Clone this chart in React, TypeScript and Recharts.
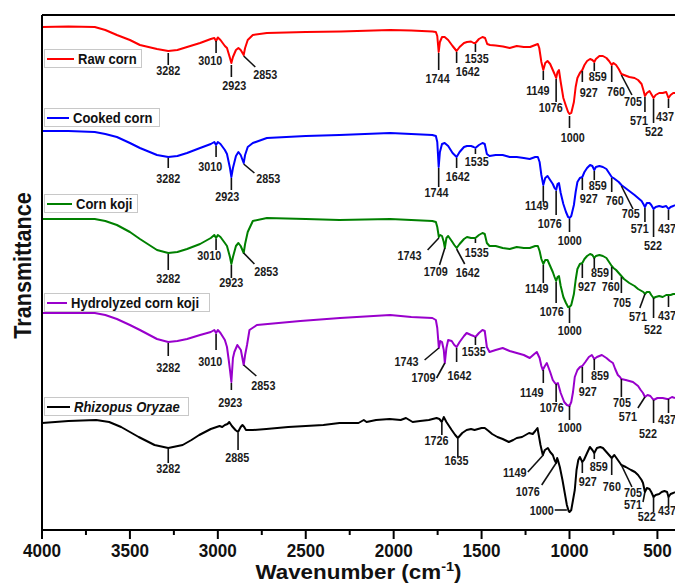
import React from 'react';
import { LineChart, Line, XAxis, YAxis, ReferenceLine, ReferenceDot } from 'recharts';

// FTIR spectra: [wavenumber (cm-1), offset transmittance (a.u.)]
type Pt = [number, number];

const rawCorn: Pt[] = [
  [4000, 503], [3850, 503.5], [3700, 503], [3640, 500], [3574, 495], [3500, 490], [3443, 485], [3346, 481],
  [3282, 479], [3230, 480], [3175, 483], [3101, 487], [3040, 491], [3020, 492], [3010, 489], [3000, 492.5],
  [2985, 490], [2960, 484], [2948, 482], [2931, 472], [2923, 467], [2914, 473], [2897, 480], [2883, 482],
  [2870, 480], [2853, 475], [2845, 482], [2830, 490], [2801, 495], [2721, 497], [2500, 498], [2300, 498.5],
  [2020, 500], [1900, 499.5], [1780, 498.5], [1760, 498], [1752, 494], [1744, 478], [1737, 488], [1725, 493],
  [1710, 493], [1690, 490], [1665, 484], [1642, 479], [1625, 483], [1600, 487], [1583, 488], [1560, 488.5],
  [1545, 487], [1535, 487], [1515, 491], [1495, 493], [1480, 492], [1468, 486], [1452, 485], [1420, 484.5],
  [1378, 483.5], [1340, 482], [1300, 484], [1260, 483], [1224, 483], [1195, 485], [1180, 486], [1172, 482],
  [1160, 468], [1149, 460], [1138, 467], [1125, 469], [1110, 466], [1095, 460], [1085, 456], [1076, 452],
  [1068, 458], [1060, 460], [1050, 448], [1035, 432], [1020, 424], [1008, 418], [1000, 416], [990, 417],
  [975, 428], [965, 443], [955, 452], [941, 457], [927, 460], [915, 465], [900, 469], [883, 471], [870, 470],
  [859, 468], [850, 471], [830, 474], [810, 474], [790, 472], [775, 469], [760, 465], [750, 467], [735, 465],
  [720, 461], [705, 456], [690, 455], [660, 453], [630, 452], [610, 450], [590, 446], [580, 440], [571, 434],
  [560, 437], [545, 439], [535, 436], [522, 432], [510, 435], [490, 437], [470, 437], [450, 438], [437, 432],
  [425, 435], [410, 437], [400, 437],
];

const cookedCorn: Pt[] = [
  [4000, 399], [3850, 399], [3700, 398], [3640, 396], [3574, 393], [3500, 387], [3443, 382], [3346, 375],
  [3282, 373], [3230, 374], [3175, 377], [3101, 382], [3040, 386], [3020, 388], [3010, 385], [3000, 388],
  [2985, 386], [2960, 380], [2948, 376], [2931, 362], [2923, 353], [2914, 362], [2897, 374], [2883, 378],
  [2870, 375], [2853, 367], [2845, 375], [2830, 383], [2801, 387], [2721, 392], [2500, 394], [2308, 395],
  [2020, 397], [1900, 396], [1780, 395], [1760, 394], [1752, 388], [1744, 363], [1737, 378], [1725, 386],
  [1710, 387], [1690, 384], [1665, 377], [1642, 373], [1625, 378], [1600, 383], [1583, 384], [1560, 384],
  [1545, 383], [1535, 382], [1515, 385], [1495, 387], [1482, 386], [1470, 376], [1455, 374], [1420, 375],
  [1380, 375], [1340, 373], [1300, 373], [1260, 372], [1226, 371], [1195, 373], [1180, 373], [1170, 368],
  [1160, 355], [1149, 345], [1138, 352], [1125, 354], [1110, 350], [1095, 346], [1085, 342], [1076, 340],
  [1068, 346], [1060, 347], [1050, 337], [1035, 326], [1020, 318], [1008, 313], [1000, 312], [990, 314],
  [975, 325], [965, 338], [955, 348], [941, 352], [927, 353], [915, 358], [900, 362], [883, 365], [870, 364],
  [859, 360], [850, 363], [830, 364], [810, 363], [790, 361], [775, 357], [760, 353], [750, 352], [735, 350],
  [720, 348], [705, 345], [690, 343], [660, 339], [630, 335], [610, 332], [590, 329], [580, 326], [571, 323],
  [560, 327], [545, 327], [535, 325], [522, 321], [510, 323], [490, 324], [470, 323], [450, 324], [437, 321],
  [425, 323], [410, 324], [400, 325],
];

const cornKoji: Pt[] = [
  [4000, 311], [3850, 311], [3700, 311], [3640, 309], [3574, 305], [3500, 298], [3443, 291], [3346, 280],
  [3282, 277], [3230, 278], [3175, 281], [3101, 286], [3040, 292], [3020, 295], [3010, 292], [3000, 295],
  [2985, 293], [2960, 287], [2948, 284], [2931, 273], [2923, 266], [2914, 273], [2897, 284], [2883, 287],
  [2870, 284], [2853, 277], [2845, 286], [2830, 298], [2801, 309], [2721, 312], [2500, 311], [2308, 310],
  [2020, 311], [1900, 310], [1780, 309], [1760, 308], [1752, 303], [1743, 293], [1735, 295], [1725, 294],
  [1715, 288], [1709, 282], [1700, 292], [1690, 294], [1670, 289], [1655, 285], [1642, 282], [1625, 286],
  [1600, 291], [1583, 293], [1560, 292], [1545, 292], [1535, 292], [1515, 295], [1495, 297], [1482, 296],
  [1470, 287], [1455, 284], [1420, 284], [1380, 282], [1340, 281], [1300, 283], [1260, 282], [1226, 282],
  [1195, 284], [1180, 284], [1170, 279], [1160, 271], [1149, 266], [1138, 270], [1125, 270], [1110, 264],
  [1095, 258], [1085, 253], [1076, 249], [1068, 253], [1060, 254], [1050, 244], [1035, 233], [1020, 227],
  [1008, 223], [1000, 223], [990, 225], [975, 236], [965, 250], [955, 261], [941, 266], [927, 267], [915, 271],
  [900, 274], [883, 276], [870, 275], [859, 272], [850, 274], [830, 275], [810, 274], [790, 272], [775, 268],
  [760, 264], [750, 262], [735, 260], [720, 257], [705, 254], [690, 251], [660, 247], [630, 244], [610, 241],
  [590, 239], [580, 238], [571, 236], [560, 238], [545, 238], [535, 235], [522, 232], [510, 233], [490, 234],
  [470, 233], [450, 235], [437, 235], [425, 235], [410, 236], [400, 236],
];

const hydrolyzedCornKoji: Pt[] = [
  [4000, 217], [3850, 217], [3700, 217], [3640, 215], [3574, 211], [3500, 205], [3443, 200], [3346, 191],
  [3282, 188], [3230, 189], [3175, 191], [3101, 195], [3040, 198], [3020, 200], [3010, 197], [3000, 200],
  [2985, 197], [2960, 190], [2948, 183], [2938, 170], [2931, 160], [2923, 148], [2914, 172], [2906, 178],
  [2889, 185], [2869, 180], [2853, 165], [2845, 175], [2834, 185], [2820, 200], [2778, 205], [2531, 209],
  [2305, 212], [2020, 215], [1900, 213], [1780, 212], [1760, 210], [1752, 202], [1743, 182], [1735, 189],
  [1725, 188], [1715, 180], [1709, 167], [1700, 182], [1690, 190], [1670, 189], [1655, 185], [1642, 183],
  [1625, 188], [1600, 194], [1585, 197], [1560, 195], [1545, 194], [1535, 193], [1515, 197], [1495, 200],
  [1482, 199], [1470, 183], [1455, 178], [1420, 180], [1380, 182], [1340, 179], [1300, 177], [1260, 175],
  [1226, 172], [1200, 176], [1186, 178], [1170, 172], [1160, 164], [1152, 160], [1140, 164], [1129, 167],
  [1110, 158], [1095, 150], [1083, 147], [1076, 146], [1066, 147], [1050, 137], [1030, 128], [1015, 125],
  [1000, 124], [990, 128], [980, 138], [970, 153], [955, 160], [940, 163], [927, 164], [910, 168], [890, 173],
  [873, 175], [859, 171], [844, 173], [816, 175], [790, 172], [770, 169], [753, 167], [740, 161], [725, 155],
  [713, 153], [705, 151], [680, 150], [639, 148], [610, 144], [595, 140], [582, 137], [571, 133], [556, 135],
  [540, 134], [522, 130], [500, 132], [470, 132], [445, 131], [437, 131], [417, 133], [400, 132],
];

const rhizopusOryzae: Pt[] = [
  [4000, 107], [3850, 109], [3692, 110], [3618, 108], [3550, 103], [3500, 98], [3450, 93], [3360, 85],
  [3282, 82], [3200, 85], [3150, 90], [3106, 95], [3040, 101], [2990, 104], [2975, 103], [2960, 105],
  [2945, 106], [2935, 108], [2920, 104], [2900, 100], [2885, 98], [2870, 103], [2860, 105], [2850, 103],
  [2840, 100], [2800, 100], [2724, 101], [2600, 103], [2500, 104], [2400, 105], [2308, 107], [2200, 107],
  [2170, 110], [2154, 108], [2100, 110], [2023, 111], [1960, 110], [1930, 112], [1892, 108], [1850, 109],
  [1800, 110], [1756, 112], [1740, 111], [1726, 108], [1715, 113], [1700, 108], [1670, 100], [1650, 95],
  [1635, 92], [1610, 97], [1585, 100], [1560, 101], [1540, 100], [1520, 101], [1500, 102], [1482, 102],
  [1460, 99], [1440, 96], [1410, 93], [1380, 91], [1345, 88], [1320, 90], [1300, 92], [1270, 93], [1250, 95],
  [1230, 97], [1209, 96], [1195, 99], [1182, 102], [1175, 95], [1165, 85], [1152, 75], [1140, 80], [1123, 82],
  [1110, 78], [1095, 75], [1085, 70], [1076, 67], [1070, 72], [1066, 70], [1055, 63], [1040, 50], [1027, 37],
  [1015, 25], [1005, 19], [1000, 18], [990, 20], [980, 30], [970, 40], [960, 60], [950, 70], [941, 73],
  [927, 68], [918, 70], [900, 77], [884, 83], [870, 80], [859, 77], [844, 82], [825, 83], [810, 82], [790, 78],
  [770, 74], [760, 72], [745, 75], [725, 70], [705, 65], [680, 63], [650, 60], [628, 58], [610, 55], [590, 50],
  [582, 47], [571, 38], [560, 42], [545, 41], [535, 38], [522, 33], [510, 35], [490, 36], [476, 38], [460, 39],
  [445, 38], [437, 33], [425, 36], [410, 37], [400, 38],
];

// Band assignments: [label, lineFromWn, lineFromT, lineToWn, lineToT, textWn, textT]
type Peak = [number, number, number, number, number, number, number];

const rawCornPeaks: Peak[] = [
  [3282, 3282, 477, 3282, 465, 3282, 459], [3010, 3010, 489, 3010, 477, 3043, 469],
  [2923, 2923, 465, 2923, 453, 2906, 444], [2853, 2853, 474, 2787, 463, 2730, 455],
  [1744, 1744, 477, 1744, 460, 1750, 451], [1642, 1642, 478, 1642, 467, 1579, 458],
  [1535, 1535, 486, 1535, 478, 1528, 471], [1149, 1149, 459, 1149, 450, 1180, 439],
  [1076, 1076, 451, 1076, 428, 1106, 422], [1000, 1000, 414, 1000, 402, 981, 392],
  [927, 927, 459, 927, 448, 890, 437], [859, 859, 467, 859, 459, 839, 453],
  [760, 760, 464, 760, 448, 736, 438], [705, 705, 455, 645, 435, 639, 428],
  [571, 571, 433, 571, 418, 605, 409], [522, 522, 431, 522, 407, 520, 398],
  [437, 437, 431, 437, 422, 457, 413],
];

const cookedCornPeaks: Peak[] = [
  [3282, 3282, 372, 3282, 362, 3282, 351], [3010, 3010, 384, 3010, 373, 3043, 363],
  [2923, 2923, 352, 2923, 340, 2946, 333], [2853, 2853, 366, 2792, 357, 2713, 351],
  [1744, 1744, 362, 1744, 343, 1756, 337], [1642, 1642, 372, 1642, 362, 1636, 353],
  [1535, 1535, 381, 1535, 376, 1528, 368], [1149, 1149, 344, 1149, 328, 1186, 324],
  [1076, 1076, 339, 1076, 315, 1112, 306], [1000, 1000, 311, 1000, 298, 998, 289],
  [927, 927, 352, 927, 340, 890, 331], [859, 859, 359, 859, 350, 839, 344],
  [760, 760, 352, 760, 338, 742, 329], [705, 705, 344, 639, 321, 651, 316],
  [571, 571, 322, 571, 308, 600, 301], [522, 522, 320, 522, 293, 525, 284],
  [437, 437, 320, 437, 310, 446, 301],
];

const cornKojiPeaks: Peak[] = [
  [3282, 3282, 276, 3282, 260, 3282, 251], [3010, 3010, 291, 3010, 280, 3049, 274],
  [2923, 2923, 265, 2923, 252, 2923, 247], [2853, 2853, 277, 2792, 266, 2724, 258],
  [1743, 1743, 292, 1807, 280, 1910, 274], [1709, 1709, 282, 1739, 265, 1761, 258],
  [1642, 1642, 281, 1596, 266, 1579, 257], [1535, 1535, 291, 1535, 287, 1528, 277],
  [1149, 1149, 265, 1149, 247, 1186, 241], [1076, 1076, 248, 1076, 227, 1101, 218],
  [1000, 1000, 222, 1000, 207, 998, 199], [927, 927, 266, 927, 252, 901, 243],
  [859, 859, 272, 859, 262, 827, 257], [760, 760, 263, 760, 250, 765, 243],
  [705, 705, 253, 705, 237, 702, 227], [571, 571, 236, 600, 222, 611, 213],
  [522, 522, 232, 522, 212, 525, 200], [437, 437, 234, 437, 223, 446, 214],
];

const hydrolyzedCornKojiPeaks: Peak[] = [
  [3282, 3282, 187, 3282, 174, 3282, 162], [3010, 3010, 196, 3010, 180, 3043, 168],
  [2923, 2923, 147, 2923, 140, 2929, 127], [2853, 2853, 165, 2781, 154, 2741, 144],
  [1743, 1743, 182, 1824, 170, 1927, 168], [1709, 1709, 167, 1756, 152, 1830, 152],
  [1642, 1642, 182, 1642, 168, 1625, 154], [1535, 1535, 193, 1535, 185, 1545, 178],
  [1149, 1149, 160, 1149, 147, 1215, 137], [1076, 1076, 146, 1076, 128, 1101, 122],
  [1000, 1000, 124, 1000, 110, 998, 102], [927, 927, 163, 927, 147, 896, 138],
  [859, 859, 171, 859, 160, 827, 154], [705, 705, 151, 705, 133, 702, 127],
  [571, 571, 133, 611, 122, 668, 113], [522, 522, 130, 522, 107, 554, 96],
  [437, 437, 131, 437, 117, 446, 110],
];

const rhizopusOryzaePeaks: Peak[] = [
  [3282, 3282, 81, 3282, 67, 3282, 61], [2885, 2885, 97, 2885, 80, 2889, 72],
  [1726, 1726, 107, 1726, 95, 1756, 89], [1635, 1635, 91, 1635, 73, 1642, 69],
  [1149, 1149, 75, 1237, 58, 1311, 57], [1076, 1076, 67, 1158, 45, 1237, 38],
  [1000, 1084, 20, 1015, 20, 1158, 19], [927, 927, 68, 927, 57, 896, 48],
  [859, 859, 77, 859, 71, 833, 63], [760, 760, 72, 760, 55, 759, 43],
  [705, 705, 65, 645, 43, 639, 37], [571, 571, 38, 582, 28, 639, 25],
  [522, 522, 33, 522, 18, 560, 13], [437, 437, 33, 437, 23, 446, 19],
];

const seriesNames = ['Raw corn', 'Cooked corn', 'Corn koji', 'Hydrolyzed corn koji', 'Rhizopus Oryzae'];
const majorTicks = [4000, 3500, 3000, 2500, 2000, 1500, 1000, 500];
const minorTicks = [3750, 3250, 2750, 2250, 1750, 1250, 750];

const FONT = '"Liberation Sans", Arial, Helvetica, sans-serif';

const SERIES = [
  { name: seriesNames[0], color: '#ff0000', data: rawCorn, peaks: rawCornPeaks, italic: false },
  { name: seriesNames[1], color: '#0000ff', data: cookedCorn, peaks: cookedCornPeaks, italic: false },
  { name: seriesNames[2], color: '#008000', data: cornKoji, peaks: cornKojiPeaks, italic: false },
  { name: seriesNames[3], color: '#9900cc', data: hydrolyzedCornKoji, peaks: hydrolyzedCornKojiPeaks, italic: false },
  { name: seriesNames[4], color: '#000000', data: rhizopusOryzae, peaks: rhizopusOryzaePeaks, italic: true },
];

// legend box placement (left, top, width) for each sample
const LEGEND_BOXES = [
  { left: 44, top: 49, width: 98 },
  { left: 44, top: 108, width: 116 },
  { left: 44, top: 194, width: 94 },
  { left: 44, top: 293, width: 166 },
  { left: 44, top: 397, width: 145 },
];

const toRows = (pts: Pt[]) => pts.map(([wn, t]) => ({ wn, t }));

const WaveTick = (props: any) => {
  const { x, y, payload } = props;
  const major = majorTicks.includes(payload.value);
  return (
    <g>
      <line x1={x} x2={x} y1={y} y2={y + (major ? 9 : 5)} stroke="#000" strokeWidth={2} />
      {major && (
        <text
          transform={`translate(${x},${y + 27}) scale(0.9,1)`}
          textAnchor="middle"
          fontFamily={FONT}
          fontWeight="bold"
          fontSize={19}
          fill="#111"
        >
          {payload.value}
        </text>
      )}
    </g>
  );
};

const XTitle = (props: any) => {
  const vb = props.viewBox || { x: 42, y: 530, width: 633, height: 54 };
  const cx = vb.x + vb.width / 2;
  return (
    <text
      transform={`translate(${cx},${vb.y + 49}) scale(1.12,1)`}
      textAnchor="middle"
      fontFamily={FONT}
      fontWeight="bold"
      fontSize={20}
      fill="#111"
    >
      Wavenumber (cm
      <tspan fontSize={13} dy={-8}>-1</tspan>
      <tspan dy={8}>)</tspan>
    </text>
  );
};

const YTitle = (props: any) => {
  const vb = props.viewBox || { x: 0, y: 15, width: 42, height: 515 };
  const cy = vb.y + vb.height / 2 - 7;
  return (
    <text
      transform={`translate(31,${cy}) rotate(-90) scale(0.9,1)`}
      textAnchor="middle"
      fontFamily={FONT}
      fontWeight="bold"
      fontSize={24}
      fill="#111"
    >
      Transmittance
    </text>
  );
};

const peakLabelShape = (label: number) => (p: any) => (
  <text
    transform={`translate(${p.cx},${p.cy}) scale(0.9,1)`}
    dy="0.36em"
    textAnchor="middle"
    fontFamily={FONT}
    fontWeight="bold"
    fontSize={12}
    fill="#1a1a1a"
  >
    {label}
  </text>
);

export default function App() {
  const marks: React.ReactElement[] = [];
  SERIES.forEach((s, si) => {
    s.peaks.forEach(([label, x1, t1, x2, t2, tx, ty], pi) => {
      marks.push(
        <ReferenceLine
          key={`pl-${si}-${pi}`}
          segment={[{ x: x1, y: t1 }, { x: x2, y: t2 }]}
          stroke="#111"
          strokeWidth={1.6}
          ifOverflow="visible"
        />
      );
      marks.push(
        <ReferenceDot
          key={`pt-${si}-${pi}`}
          x={tx}
          y={ty}
          r={0}
          ifOverflow="visible"
          shape={peakLabelShape(label)}
        />
      );
    });
  });

  return (
    <div style={{ position: 'absolute', left: 0, top: 0, width: 675, height: 584, background: '#fff', overflow: 'hidden' }}>
      <LineChart width={675} height={584} margin={{ top: 15, right: 0, bottom: 0, left: 0 }}>
        <XAxis
          type="number"
          dataKey="wn"
          domain={[400, 4000]}
          reversed
          allowDataOverflow
          ticks={[...majorTicks, ...minorTicks].sort((a, b) => b - a)}
          interval={0}
          height={54}
          tickLine={false}
          tickSize={0}
          tickMargin={0}
          axisLine={{ stroke: '#000', strokeWidth: 2 }}
          tick={<WaveTick />}
          label={<XTitle />}
        />
        <YAxis
          type="number"
          domain={[0, 515]}
          allowDataOverflow
          width={42}
          tick={false}
          tickLine={false}
          axisLine={{ stroke: '#000', strokeWidth: 2 }}
          label={<YTitle />}
        />
        <ReferenceLine y={515} stroke="#000" strokeWidth={2} ifOverflow="visible" />
        {SERIES.map((s) => (
          <Line
            key={s.name}
            name={s.name}
            data={toRows(s.data)}
            dataKey="t"
            type="linear"
            stroke={s.color}
            strokeWidth={2}
            strokeLinejoin="round"
            dot={false}
            activeDot={false}
            isAnimationActive={false}
          />
        ))}
        {marks}
      </LineChart>
      {SERIES.map((s, i) => {
        const box = LEGEND_BOXES[i];
        return (
          <div
            key={`lg-${s.name}`}
            style={{
              position: 'absolute',
              left: box.left,
              top: box.top,
              width: box.width,
              height: 19,
              boxSizing: 'border-box',
              border: '1px solid #c8c8c8',
              display: 'flex',
              alignItems: 'center',
              whiteSpace: 'nowrap',
            }}
          >
            <span style={{ display: 'inline-block', width: 30, borderTop: `2.5px solid ${s.color}`, marginLeft: 2 }} />
            <span
              style={{
                marginLeft: 4,
                fontFamily: FONT,
                fontWeight: 'bold',
                fontStyle: s.italic ? 'italic' : 'normal',
                fontSize: 14,
                color: '#111',
                display: 'inline-block',
                transform: 'scaleX(0.93)',
                transformOrigin: 'left center',
              }}
            >
              {s.name}
            </span>
          </div>
        );
      })}
    </div>
  );
}
